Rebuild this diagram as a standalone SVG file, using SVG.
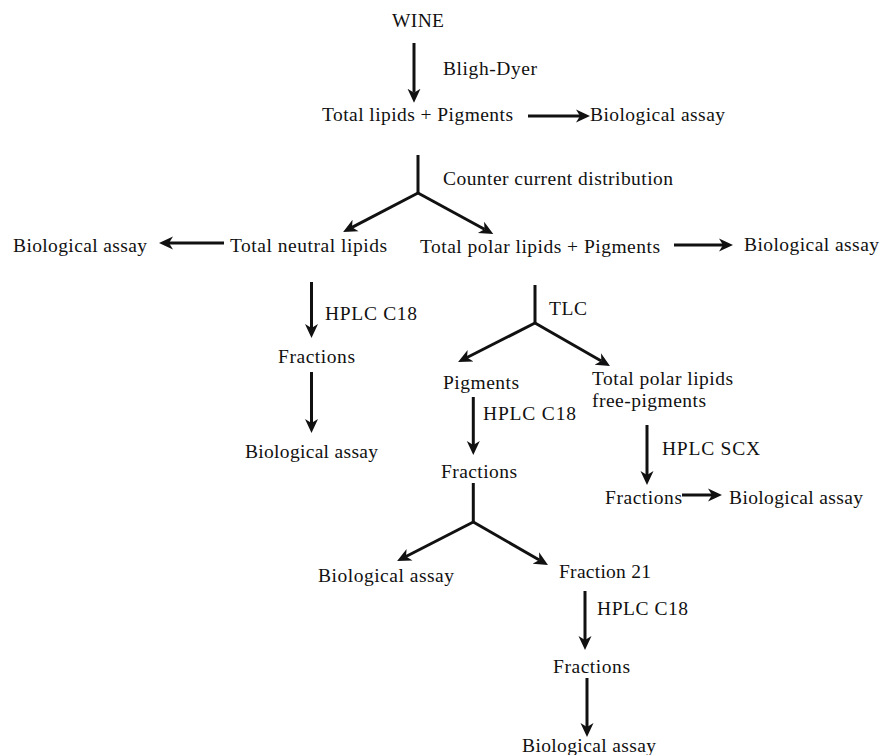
<svg xmlns="http://www.w3.org/2000/svg" width="881" height="755" viewBox="0 0 881 755">
<style>
text{font-family:"Liberation Serif","Times New Roman",serif;font-size:19.5px;fill:#111}
.c{stroke:#111;stroke-width:3;fill:none;marker-end:url(#ah)}
.s{stroke:#111;stroke-width:3;fill:none}
</style>
<defs>
<marker id="ah" markerUnits="userSpaceOnUse" markerWidth="18" markerHeight="16" viewBox="0 -8 18 16" refX="4" refY="0" orient="auto">
<path d="M14,0 L0,-6.5 L4,0 L0,6.5 Z" fill="#111"/>
</marker>
</defs>
<rect width="881" height="755" fill="#fff"/>
<g id="connectors">
<line class="c" x1="414" y1="43" x2="414" y2="92.7"/>
<line class="c" x1="528" y1="116" x2="580" y2="116"/>
<line class="s" x1="418" y1="155" x2="418" y2="194"/>
<line class="c" x1="418" y1="193" x2="352" y2="227.3"/>
<line class="c" x1="418" y1="193" x2="484.5" y2="229.3"/>
<line class="c" x1="224" y1="243" x2="169" y2="243"/>
<line class="c" x1="674" y1="245" x2="723" y2="245"/>
<line class="c" x1="311.5" y1="282" x2="311.5" y2="328"/>
<line class="c" x1="311.5" y1="372" x2="311.5" y2="423"/>
<line class="s" x1="535" y1="285" x2="535" y2="324"/>
<line class="c" x1="535" y1="323" x2="467" y2="357.5"/>
<line class="c" x1="535" y1="323" x2="601.3" y2="361"/>
<line class="c" x1="473.3" y1="397" x2="473.3" y2="445"/>
<line class="c" x1="647" y1="425" x2="647" y2="475"/>
<line class="c" x1="682" y1="495" x2="712" y2="495"/>
<line class="s" x1="473.3" y1="483" x2="473.3" y2="523"/>
<line class="c" x1="473.3" y1="522" x2="406" y2="556.5"/>
<line class="c" x1="473.3" y1="522" x2="539.3" y2="560"/>
<line class="c" x1="585" y1="591" x2="585" y2="640"/>
<line class="c" x1="587" y1="678" x2="587" y2="727"/>
</g>
<g id="wine"><text x="392" y="27" textLength="52" lengthAdjust="spacing">WINE</text></g>
<g id="label-bligh"><text x="443" y="75" textLength="94" lengthAdjust="spacing">Bligh-Dyer</text></g>
<g id="total-lipids"><text x="322" y="121" textLength="191" lengthAdjust="spacing">Total lipids + Pigments</text></g>
<g id="bio1"><text x="590" y="121" textLength="135" lengthAdjust="spacing">Biological assay</text></g>
<g id="label-ccd"><text x="443" y="185" textLength="230" lengthAdjust="spacing">Counter current distribution</text></g>
<g id="bio2"><text x="13" y="252" textLength="134" lengthAdjust="spacing">Biological assay</text></g>
<g id="neutral"><text x="230" y="252" textLength="157" lengthAdjust="spacing">Total neutral lipids</text></g>
<g id="polar"><text x="420" y="253" textLength="240" lengthAdjust="spacing">Total polar lipids + Pigments</text></g>
<g id="bio3"><text x="744" y="251" textLength="135" lengthAdjust="spacing">Biological assay</text></g>
<g id="label-hplc1"><text x="325" y="320" textLength="92" lengthAdjust="spacing">HPLC C18</text></g>
<g id="fractions1"><text x="278" y="363" textLength="77" lengthAdjust="spacing">Fractions</text></g>
<g id="bio4"><text x="245" y="458" textLength="133" lengthAdjust="spacing">Biological assay</text></g>
<g id="label-tlc"><text x="549" y="315" textLength="38" lengthAdjust="spacing">TLC</text></g>
<g id="pigments"><text x="443" y="389" textLength="76" lengthAdjust="spacing">Pigments</text></g>
<g id="polar-free"><text x="592" y="385" textLength="141" lengthAdjust="spacing">Total polar lipids</text><text x="592" y="407" textLength="114" lengthAdjust="spacing">free-pigments</text></g>
<g id="label-hplc2"><text x="483" y="420" textLength="93" lengthAdjust="spacing">HPLC C18</text></g>
<g id="fractions2"><text x="441" y="478" textLength="76" lengthAdjust="spacing">Fractions</text></g>
<g id="label-scx"><text x="662" y="455" textLength="98" lengthAdjust="spacing">HPLC SCX</text></g>
<g id="fractions3"><text x="605" y="504" textLength="77" lengthAdjust="spacing">Fractions</text></g>
<g id="bio5"><text x="729" y="504" textLength="134" lengthAdjust="spacing">Biological assay</text></g>
<g id="bio6"><text x="318" y="582" textLength="136" lengthAdjust="spacing">Biological assay</text></g>
<g id="fraction21"><text x="559" y="578" textLength="92" lengthAdjust="spacing">Fraction 21</text></g>
<g id="label-hplc3"><text x="597" y="615" textLength="91" lengthAdjust="spacing">HPLC C18</text></g>
<g id="fractions4"><text x="553" y="673" textLength="77" lengthAdjust="spacing">Fractions</text></g>
<g id="bio7"><text x="522" y="752" textLength="134" lengthAdjust="spacing">Biological assay</text></g>
</svg>
